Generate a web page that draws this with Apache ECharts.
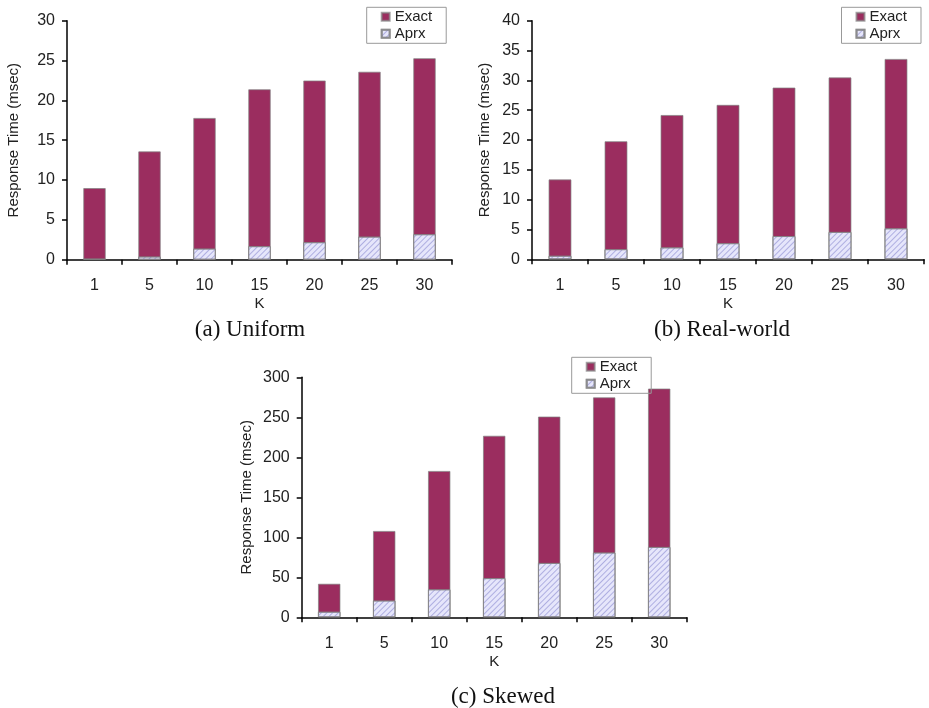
<!DOCTYPE html>
<html><head><meta charset="utf-8">
<script src="https://cdn.jsdelivr.net/npm/echarts@6/dist/echarts.min.js"></script>
<style>html,body{margin:0;padding:0;background:#fff}#c{width:929px;height:708px}</style>
</head><body><div id="c"></div>
<script>
const categories = ['1','5','10','15','20','25','30'];
const uniformExact = [9.0, 13.6, 17.8, 21.4, 22.5, 23.6, 25.3];
const uniformAprx  = [0.1, 0.4, 1.4, 1.7, 2.2, 2.9, 3.2];
const realExact = [13.4, 19.8, 24.2, 25.9, 28.8, 30.5, 33.6];
const realAprx  = [0.6, 1.7, 2.0, 2.7, 3.9, 4.6, 5.2];
const skewExact = [42, 108, 183, 227, 251, 275, 286];
const skewAprx  = [7, 21, 35, 49, 68, 81, 88];
const yMax = [30, 40, 300];
const yStep = [5, 5, 50];
const captions = ['(a) Uniform', '(b) Real-world', '(c) Skewed'];
const seriesNames = ['Exact', 'Aprx'];

const SANS = 'Liberation Sans';
const exactColor = '#9b2d5f';
const aprxColor = '#e6e6fb';
const aprxDecal = { symbol: 'rect', symbolSize: 1, dashArrayX: [1, 0], dashArrayY: [1, 2.2], rotation: -Math.PI / 4, color: 'rgba(120,120,200,0.5)' };

const grids = [
  { left: 67, top: 20.7, width: 385, height: 239 },
  { left: 532, top: 20.7, width: 392, height: 238.6 },
  { left: 301.7, top: 377.3, width: 385, height: 240 }
];
const nameGaps = [46, 40, 47];
const legends = [
  { left: 366.7, top: 7.3 },
  { left: 841.5, top: 7.3 },
  { left: 571.7, top: 357.3 }
];
const capPos = [ { x: 250, y: 318 }, { x: 722, y: 318 }, { x: 503, y: 685 } ];
const data = [[uniformExact, uniformAprx], [realExact, realAprx], [skewExact, skewAprx]];

const option = {
  backgroundColor: '#fff',
  animation: false,
  title: captions.map((t, i) => ({
    text: t, left: capPos[i].x, top: capPos[i].y, textAlign: 'center', padding: 0,
    textStyle: { fontFamily: 'Liberation Serif', fontSize: 23, fontWeight: 'normal', color: '#111' }
  })),
  grid: grids.map(g => Object.assign({ containLabel: false }, g)),
  legend: legends.map((l, i) => ({
    left: l.left, top: l.top, orient: 'vertical',
    data: seriesNames.map(n => ({ name: n })),
    seriesIndex: [2 * i, 2 * i + 1],
    itemWidth: 8, itemHeight: 8, itemGap: 2, itemTextGap: 3,
    padding: [2, 14, 2, 14],
    borderColor: '#999', borderWidth: 1, borderRadius: 0,
    icon: 'rect',
    selectedMode: false,
    textStyle: { fontFamily: SANS, fontSize: 15, color: '#222', lineHeight: 15 }
  })),
  xAxis: grids.map((g, i) => ({
    type: 'category', gridIndex: i, data: categories,
    name: 'K', nameLocation: 'middle', nameGap: 37,
    nameTextStyle: { fontFamily: SANS, fontSize: 15, color: '#222' },
    axisLine: { lineStyle: { color: '#000', width: 1.5 } },
    axisTick: { show: true, alignWithLabel: false, length: 5, lineStyle: { color: '#000', width: 1.5 } },
    axisLabel: { fontFamily: SANS, fontSize: 16, color: '#222', margin: 18 },
    splitLine: { show: false }
  })),
  yAxis: grids.map((g, i) => ({
    type: 'value', gridIndex: i, min: 0, max: yMax[i], interval: yStep[i],
    name: 'Response Time (msec)', nameLocation: 'middle', nameGap: nameGaps[i],
    nameTextStyle: { fontFamily: SANS, fontSize: 15, color: '#222' },
    axisLine: { show: true, lineStyle: { color: '#000', width: 1.5 } },
    axisTick: { show: true, length: 5, lineStyle: { color: '#000', width: 1.5 } },
    axisLabel: { fontFamily: SANS, fontSize: 16, color: '#222', margin: 12 },
    splitLine: { show: false }
  })),
  series: []
};
data.forEach((pair, i) => {
  option.series.push({
    name: 'Exact', type: 'bar', xAxisIndex: i, yAxisIndex: i, data: pair[0],
    barWidth: '41%', barGap: '-100%',
    itemStyle: { color: exactColor, borderColor: 'rgba(130,130,130,0.7)', borderWidth: 1 }
  });
  option.series.push({
    name: 'Aprx', type: 'bar', xAxisIndex: i, yAxisIndex: i, data: pair[1],
    barWidth: '41%', barGap: '-100%',
    itemStyle: { color: aprxColor, borderColor: 'rgba(130,130,130,0.7)', borderWidth: 1, decal: aprxDecal }
  });
});
const chart = echarts.init(document.getElementById('c'), null, { renderer: 'canvas' });
chart.setOption(option);
</script></body></html>
